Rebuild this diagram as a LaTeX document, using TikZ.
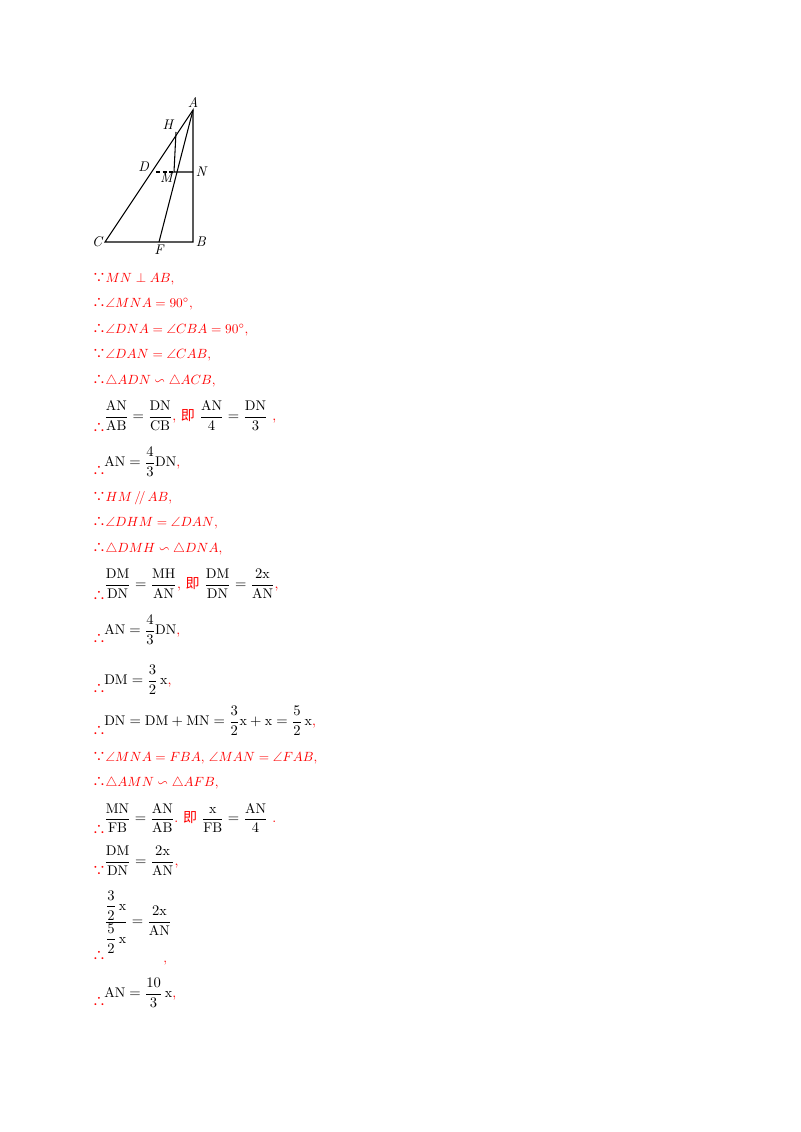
\documentclass[tikz,border=0pt]{standalone}
\usepackage{amsmath,amssymb}
\usepackage{fontspec}
\newfontfamily\cjk{Noto Sans CJK SC}
\begin{document}
\begin{tikzpicture}[x=0.75pt,y=-0.75pt,
  t/.style={anchor=base west,inner sep=0,text=red,font=\fontsize{10}{12}\selectfont},
  f/.style={anchor=west,inner sep=0,font=\fontsize{10.5}{12}\selectfont},
  lab/.style={font=\itshape\fontsize{10.5}{12}\selectfont,inner sep=2pt},
  ln/.style={line width=0.8pt}]
\useasboundingbox (0,0) rectangle (800,1132);
\coordinate (A) at (193,110); \coordinate (B) at (193,242); \coordinate (C) at (105,242);
\coordinate (F) at (159,242); \coordinate (N) at (193,172); \coordinate (M) at (174,172);
\coordinate (H) at (176,132); \coordinate (D) at (156,172);
\draw[ln] (A)--(B)--(C)--cycle;
\draw[ln] (A)--(F);
\draw[ln] (H)--(M)--(N);
\draw[ln,dashed,dash pattern=on 3pt off 2pt] (D)--(M);
\node[lab,above] at (A) {A};
\node[lab,right] at (B) {B};
\node[lab,left] at (C) {C};
\node[lab,below] at (F) {F};
\node[lab,right] at (N) {N};
\node[lab,below left,inner sep=0pt] at (173,173) {M};
\node[lab,above left] at (H) {H};
\node[lab,left] at (152,167) {D};
\newcommand\bc{{\cjk ∵}}\newcommand\so{{\cjk ∴}}
\node[t] at (92,282) {\bc$MN\perp AB$,};
\node[t] at (92,307) {\so$\angle MNA=90^\circ$,};
\node[t] at (92,333) {\so$\angle DNA=\angle CBA=90^\circ$,};
\node[t] at (92,358) {\bc$\angle DAN=\angle CAB$,};
\node[t] at (92,384) {\so$\triangle ADN\backsim\triangle ACB$,};
\node[t] at (92,432) {\so};
\node[f] at (104,416) {$\dfrac{\mathrm{AN}}{\mathrm{AB}}=\dfrac{\mathrm{DN}}{\mathrm{CB}}$\textcolor{red}{,\ {\cjk 即}}\ $\dfrac{\mathrm{AN}}{4}=\dfrac{\mathrm{DN}}{3}$\textcolor{red}{\ ,}};
\node[t] at (92,475) {\so};
\node[f] at (104,462) {$\mathrm{AN}=\dfrac{4}{3}\mathrm{DN}$\textcolor{red}{,}};
\node[t] at (92,501) {\bc$HM\,/\!/\,AB$,};
\node[t] at (92,526) {\so$\angle DHM=\angle DAN$,};
\node[t] at (92,552) {\so$\triangle DMH\backsim\triangle DNA$,};
\node[t] at (92,600) {\so};
\node[f] at (104,584) {$\dfrac{\mathrm{DM}}{\mathrm{DN}}=\dfrac{\mathrm{MH}}{\mathrm{AN}}$\textcolor{red}{,\ {\cjk 即}}\ $\dfrac{\mathrm{DM}}{\mathrm{DN}}=\dfrac{2\mathrm{x}}{\mathrm{AN}}$\textcolor{red}{,}};
\node[t] at (92,643) {\so};
\node[f] at (104,630) {$\mathrm{AN}=\dfrac{4}{3}\mathrm{DN}$\textcolor{red}{,}};
\node[t] at (92,693) {\so};
\node[f] at (104,680) {$\mathrm{DM}=\dfrac{3}{2}\,\mathrm{x}$\textcolor{red}{,}};
\node[t] at (92,735) {\so};
\node[f] at (104,721) {$\mathrm{DN}=\mathrm{DM}+\mathrm{MN}=\dfrac{3}{2}\mathrm{x}+\mathrm{x}=\dfrac{5}{2}\,\mathrm{x}$\textcolor{red}{,}};
\node[t] at (92,761) {\bc$\angle MNA=FBA$,\ $\angle MAN=\angle FAB$,};
\node[t] at (92,786) {\so$\triangle AMN\backsim\triangle AFB$,};
\node[t] at (92,834) {\so};
\node[f] at (104,818) {$\dfrac{\mathrm{MN}}{\mathrm{FB}}=\dfrac{\mathrm{AN}}{\mathrm{AB}}$\textcolor{red}{.\ {\cjk 即}}\ $\dfrac{\mathrm{x}}{\mathrm{FB}}=\dfrac{\mathrm{AN}}{4}$\textcolor{red}{\ .}};
\node[t] at (92,875) {\bc};
\node[f] at (104,861) {$\dfrac{\mathrm{DM}}{\mathrm{DN}}=\dfrac{2\mathrm{x}}{\mathrm{AN}}$\textcolor{red}{,}};
\node[t] at (92,960) {\so};
\node[f] at (104,922) {$\dfrac{\dfrac{3}{2}\,\mathrm{x}}{\dfrac{5}{2}\,\mathrm{x}}=\dfrac{2\mathrm{x}}{\mathrm{AN}}$};
\node[t] at (163,962) {,};
\node[t] at (92,1006) {\so};
\node[f] at (104,993) {$\mathrm{AN}=\dfrac{10}{3}\,\mathrm{x}$\textcolor{red}{,}};
\end{tikzpicture}
\end{document}
